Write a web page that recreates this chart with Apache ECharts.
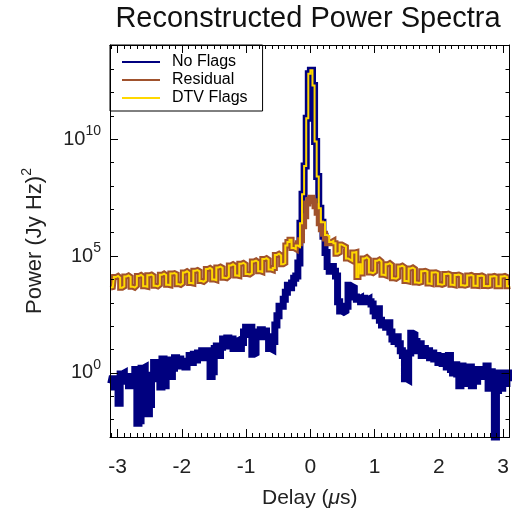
<!DOCTYPE html>
<html><head><meta charset="utf-8">
<script src="https://cdn.jsdelivr.net/npm/echarts@6/dist/echarts.min.js"></script>
<style>html,body{margin:0;padding:0;background:#fff}#c{width:512px;height:516px}</style>
</head><body><div id="c"></div>
<script>
// delay bin width (microseconds); bins are centred symmetrically about 0
const binWidth = 0.03255;
// log10 of power, one value per delay bin (192 bins)
const noFlags = [
-0.45,-0.25,-0.6,-0.35,-1.3,-0.05,0.0,-0.35,-0.15,-0.55,
-0.15,-0.5,0.15,-2.15,-2.05,0.2,0.25,-0.75,-1.75,-1.35,
-0.1,0.45,-0.25,0.45,-0.6,0.6,-0.55,0.55,0.15,-0.15,
0.2,0.65,0.35,0.6,0.3,0.5,0.25,0.45,0.75,0.45,
0.8,0.55,0.85,0.65,0.95,0.65,0.85,0.95,-0.15,0.05,
1.05,1.15,0.75,1.1,1.45,1.15,1.5,1.25,1.45,1.05,
1.35,1.4,1.05,1.3,1.75,1.95,1.65,1.95,0.8,0.85,
1.75,1.55,1.85,1.65,1.8,1.55,1.05,1.0,1.35,2.05,
2.45,2.85,2.85,3.15,3.45,3.75,3.65,3.85,4.05,4.15,
4.7,6.4,7.65,8.85,10.9,12.8,12.95,12.3,9.9,8.4,
7.05,6.45,5.85,5.15,4.55,4.35,4.55,4.35,4.15,3.05,
2.65,2.6,2.65,2.85,3.75,3.7,3.65,3.25,3.15,3.2,
3.05,3.2,3.1,3.15,3.05,2.95,2.65,2.45,2.75,2.25,
2.05,2.15,1.95,2.15,1.75,1.45,1.35,1.55,1.25,0.95,
0.75,-0.25,-0.3,0.85,1.7,1.65,1.35,0.95,1.25,0.75,
1.05,0.75,0.95,0.65,0.85,0.6,0.75,0.45,0.7,0.4,
0.65,0.25,0.75,0.15,0.0,0.35,-0.05,-0.55,0.3,-0.45,
0.05,-0.15,0.25,-0.55,0.15,-0.35,0.1,-0.15,0.15,-0.1,
0.3,-0.65,0.05,-0.35,-3.2,-0.75,0.0,-0.65,-0.05,-0.45,
0.0,-0.35
];
const residual = [
3.65,3.67,4.10,4.15,4.07,3.65,3.70,4.13,4.17,4.11,
3.69,3.65,3.73,4.15,4.19,4.13,3.71,3.69,4.18,4.21,
4.15,3.73,3.70,3.77,4.20,4.25,4.19,3.77,3.75,4.25,
4.27,4.23,3.80,3.77,3.83,4.30,4.35,4.29,3.85,3.83,
4.37,4.40,4.35,3.93,3.90,3.97,4.45,4.49,4.43,4.00,
3.97,4.51,4.55,4.50,4.07,4.05,4.12,4.60,4.65,4.59,
4.17,4.15,4.67,4.71,4.65,4.23,4.21,4.27,4.77,4.81,
4.75,4.35,4.32,4.87,4.91,4.85,4.43,4.40,4.49,5.05,
5.10,5.03,4.65,4.70,5.45,5.60,5.70,5.35,5.30,5.45,
5.55,5.68,6.28,6.70,7.25,7.40,7.50,7.35,7.13,6.85,
6.40,6.15,5.95,5.75,5.55,5.60,5.65,5.55,5.10,5.15,
5.50,5.45,5.40,4.90,4.85,4.80,5.15,5.17,4.10,4.65,
4.25,4.90,4.95,4.87,4.30,4.27,4.33,4.80,4.85,4.77,
4.20,4.17,4.65,4.70,4.63,4.05,4.03,4.09,4.55,4.59,
4.53,3.93,3.91,4.47,4.51,4.45,3.87,3.85,3.88,4.35,
4.37,4.33,3.83,3.81,4.30,4.31,4.27,3.79,3.77,3.80,
4.23,4.25,4.21,3.77,3.75,4.19,4.21,4.17,3.75,3.73,
3.76,4.17,4.19,4.15,3.73,3.72,4.15,4.17,4.13,3.72,
3.71,3.73,4.13,4.15,4.12,3.71,3.71,4.13,4.15,4.11,
3.71,3.72
];
const dtvFlags = [
3.65,3.67,4.10,4.15,4.07,3.65,3.70,4.13,4.17,4.11,
3.69,3.65,3.73,4.15,4.19,4.13,3.71,3.69,4.18,4.21,
4.15,3.73,3.70,3.77,4.20,4.25,4.19,3.77,3.75,4.25,
4.27,4.23,3.80,3.77,3.83,4.30,4.35,4.29,3.85,3.83,
4.37,4.40,4.35,3.93,3.90,3.97,4.45,4.49,4.43,4.00,
3.97,4.51,4.55,4.50,4.07,4.05,4.12,4.60,4.65,4.59,
4.17,4.15,4.67,4.71,4.65,4.23,4.21,4.27,4.77,4.81,
4.75,4.35,4.32,4.87,4.91,4.85,4.43,4.40,4.49,5.05,
5.10,5.03,4.65,4.70,5.45,5.60,5.70,5.35,5.30,5.45,
5.40,6.4,7.65,8.85,10.9,12.8,12.95,12.3,9.9,8.4,
7.05,6.45,6.45,5.90,5.85,5.60,5.65,5.55,5.10,5.15,
5.50,5.45,5.40,4.90,4.85,4.80,5.15,5.17,4.10,4.65,
4.25,4.90,4.95,4.87,4.30,4.27,4.33,4.80,4.85,4.77,
4.20,4.17,4.65,4.70,4.63,4.05,4.03,4.09,4.55,4.59,
4.53,3.93,3.91,4.47,4.51,4.45,3.87,3.85,3.88,4.35,
4.37,4.33,3.83,3.81,4.30,4.31,4.27,3.79,3.77,3.80,
4.23,4.25,4.21,3.77,3.75,4.19,4.21,4.17,3.75,3.73,
3.76,4.17,4.19,4.15,3.73,3.72,4.15,4.17,4.13,3.72,
3.71,3.73,4.13,4.15,4.12,3.71,3.71,4.13,4.15,4.11,
3.71,3.72
];
const seriesNames = ['No Flags', 'Residual', 'DTV Flags'];
const seriesColors = ['#00007F', '#A0522D', '#FFD800'];
const xTickValues = [-3, -2, -1, 0, 1, 2, 3];
const yTickExponents = [0, 5, 10];
const xMinorTicks = [-3.1,-3.0,-2.9,-2.8,-2.7,-2.6,-2.5,-2.4,-2.3,-2.2,-2.1,-2.0,-1.9,-1.8,-1.7,-1.6,-1.5,-1.4,-1.3,-1.2,-1.1,-1.0,-0.9,-0.8,-0.7,-0.6,-0.5,-0.4,-0.3,-0.2,-0.1,0,0.1,0.2,0.3,0.4,0.5,0.6,0.7,0.8,0.9,1.0,1.1,1.2,1.3,1.4,1.5,1.6,1.7,1.8,1.9,2.0,2.1,2.2,2.3,2.4,2.5,2.6,2.7,2.8,2.9,3.0];
const yMinorTicks = [-2,-1,0,1,2,3,4,5,6,7,8,9,10,11,12,13,14];

const XMIN = -3.12, XMAX = 3.10, YMIN = -2.74, YMAX = 14.03;
const FONT = '"Liberation Sans", Arial, Helvetica, sans-serif';
const delays = noFlags.map((_, i) => (i - 95.5) * binWidth);

function mkX(pos, ticks, len, showLine, labels) {
  return {
    type: 'value', min: XMIN, max: XMAX, position: pos, z: 6,
    axisLine: {show: showLine, onZero: false, lineStyle: {color: '#000', width: 1}},
    axisTick: {show: true, inside: true, length: len, customValues: ticks, lineStyle: {color: '#000', width: 1}},
    axisLabel: labels ? {show: true, customValues: xTickValues, margin: 20, fontSize: 21, color: '#222', fontFamily: FONT} : {show: false},
    splitLine: {show: false}
  };
}
function mkY(pos, ticks, len, showLine, labels) {
  return {
    type: 'value', min: YMIN, max: YMAX, position: pos, z: 6,
    axisLine: {show: showLine, onZero: false, lineStyle: {color: '#000', width: 1}},
    axisTick: {show: true, inside: true, length: len, customValues: ticks, lineStyle: {color: '#000', width: 1}},
    axisLabel: labels ? {
      show: true, customValues: yTickExponents, margin: 9,
      formatter: v => '{b|10}{s|' + Math.round(v) + '}',
      rich: {
        b: {fontSize: 20, lineHeight: 20, fontFamily: FONT, color: '#222', verticalAlign: 'bottom'},
        s: {fontSize: 14, lineHeight: 14, fontFamily: FONT, color: '#222', verticalAlign: 'bottom', padding: [0, 0, 11, 0]}
      }
    } : {show: false},
    splitLine: {show: false}
  };
}

const xAxes = [mkX('bottom', xTickValues, 8, true, true), mkX('bottom', xMinorTicks, 4, false, false),
               mkX('top', xTickValues, 8, true, false), mkX('top', xMinorTicks, 4, false, false)];
xAxes[0].name = '{m|Delay (}{i|\u03bc}{m|s)}';
xAxes[0].nameLocation = 'middle';
xAxes[0].nameGap = 51;
xAxes[0].nameTextStyle = {rich: {
  m: {fontSize: 21, fontFamily: FONT, color: '#222'},
  i: {fontSize: 21, fontFamily: FONT, color: '#222', fontStyle: 'italic'}
}};
const yAxes = [mkY('left', yTickExponents, 8, true, true), mkY('left', yMinorTicks, 4, false, false),
               mkY('right', yTickExponents, 8, true, false), mkY('right', yMinorTicks, 4, false, false)];
yAxes[0].name = '{m|Power (Jy Hz)}{s|2}';
yAxes[0].nameLocation = 'middle';
yAxes[0].nameGap = 64;
yAxes[0].nameTextStyle = {rich: {
  m: {fontSize: 22, lineHeight: 22, fontFamily: FONT, color: '#222', verticalAlign: 'bottom'},
  s: {fontSize: 14, lineHeight: 14, fontFamily: FONT, color: '#222', verticalAlign: 'bottom', padding: [0, 0, 12, 0]}
}};

const seriesData = [noFlags, residual, dtvFlags];
const widths = [7, 6, 2];
const series = seriesData.map((arr, k) => ({
  name: seriesNames[k], type: 'line', step: 'middle', symbol: 'none', showSymbol: false,
  xAxisIndex: 0, yAxisIndex: 0, color: seriesColors[k], clip: true,
  lineStyle: {color: seriesColors[k], width: widths[k], join: 'miter', cap: 'butt'},
  data: arr.map((v, i) => [delays[i], v]), z: 2 + k, animation: false
}));

const chart = echarts.init(document.getElementById('c'), null, {renderer: 'canvas'});
chart.setOption({
  animation: false,
  backgroundColor: '#fff',
  grid: {left: 110, top: 45, width: 399.5, height: 392, containLabel: false},
  xAxis: xAxes,
  yAxis: yAxes,
  legend: {
    left: 110, top: 45, orient: 'vertical', backgroundColor: '#fff', borderColor: '#000', borderWidth: 1,
    padding: [9, 15, 5, 12], itemGap: 2, itemWidth: 38, itemHeight: 2, icon: 'rect', selectedMode: false, z: 5,
    data: seriesNames,
    textStyle: {fontSize: 16, lineHeight: 16, color: '#000', fontFamily: FONT, padding: [0, 0, 0, 7]}
  },
  graphic: [{
    type: 'text', x: 308, y: 19, z: 10,
    style: {text: 'Reconstructed Power Spectra', fontSize: 29, fontFamily: FONT, fill: '#111', align: 'center', verticalAlign: 'middle'}
  }],
  series: series
});
</script></body></html>
